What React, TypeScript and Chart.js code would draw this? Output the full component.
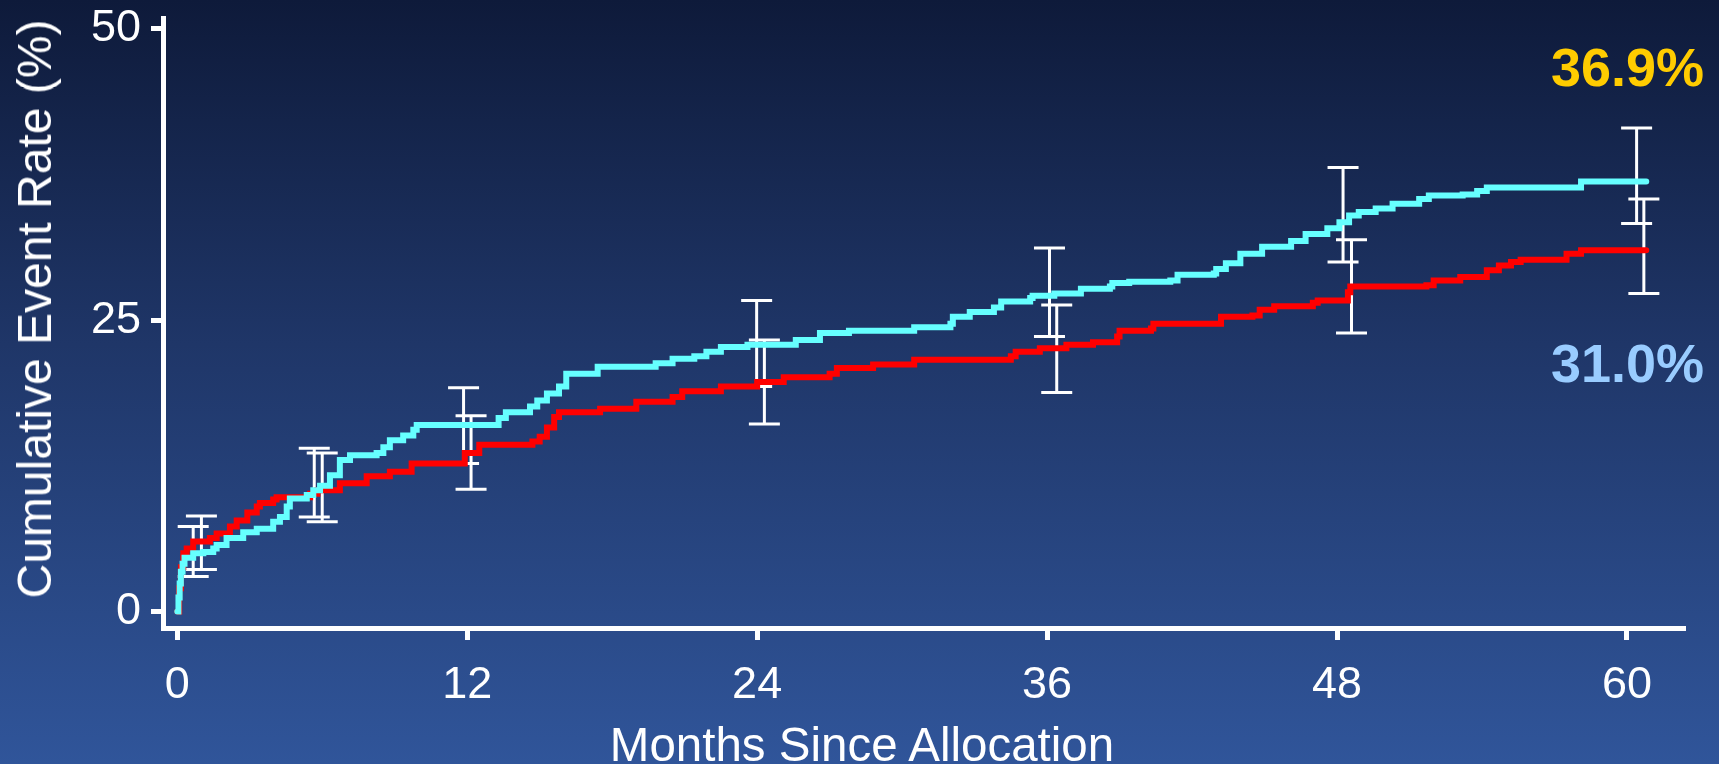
import React, { useEffect, useRef } from "react";
import { Chart, registerables } from "chart.js";

Chart.register(...registerables);

// Axis ticks
const xTicks = [0, 12, 24, 36, 48, 60];
const yTicks = [0, 25, 50];

// Cumulative event rate (%) — cyan arm, step times in months
const cyanMonths = [
  0, 0.05, 0.1, 0.15, 0.22, 0.3, 0.66, 1.08, 1.49, 1.63, 2.04, 2.73, 3.29, 3.97, 4.25, 4.53, 4.66,
  5.36, 5.63, 5.91, 6.32, 6.73, 7.15, 8.25, 8.53, 8.8, 9.35, 9.77, 9.91, 13.3, 13.6, 14.6, 14.9,
  15.3, 15.8, 16.1, 17.4, 19.8, 20.5, 21.4, 21.9, 22.5, 23.6, 25.6, 26.6, 27.8, 30.5, 32.0, 32.1,
  32.8, 33.8, 34.1, 35.3, 35.4, 36.3, 37.4, 38.6, 38.7, 39.4, 41.1, 41.4, 42.9, 43.0, 43.4, 44.0,
  44.9, 46.1, 46.7, 47.6, 48.1, 48.5, 48.9, 49.6, 50.3, 51.4, 51.8, 53.2, 53.8, 54.2, 58.1, 60.8,
];
const cyanRates = [
  0, 1.2, 2.4, 3.4, 4.1, 4.6, 5.0, 5.1, 5.4, 5.7, 6.3, 6.8, 7.1, 7.7, 8.1, 9.0, 9.7,
  10.0, 10.4, 10.8, 11.7, 13.0, 13.4, 13.6, 14.1, 14.7, 15.1, 15.6, 16.0, 16.6, 17.1, 17.6, 18.1,
  18.7, 19.3, 20.4, 21.0, 21.3, 21.7, 21.9, 22.3, 22.7, 22.9, 23.3, 23.9, 24.1, 24.4, 24.7, 25.3,
  25.7, 26.1, 26.6, 26.9, 27.1, 27.3, 27.7, 27.9, 28.2, 28.3, 28.4, 28.9, 29.0, 29.4, 29.9, 30.7,
  31.3, 31.8, 32.4, 32.9, 33.4, 34.0, 34.3, 34.6, 35.0, 35.4, 35.7, 35.8, 36.1, 36.4, 36.9, 36.9,
];

// Cumulative event rate (%) — red arm
const redMonths = [
  0, 0.08, 0.15, 0.25, 0.39, 0.66, 1.35, 1.63, 2.18, 2.46, 2.9, 3.29, 3.42, 3.97, 4.11, 5.5, 5.8,
  6.73, 7.84, 8.8, 9.7, 11.9, 12.5, 14.7, 15.0, 15.3, 15.6, 15.8, 17.5, 19.0, 20.5, 20.9, 22.5,
  24.0, 25.1, 27.0, 27.3, 28.8, 30.5, 34.5, 34.7, 35.7, 36.8, 37.9, 38.9, 39.0, 40.3, 40.4, 43.2,
  44.5, 44.8, 45.4, 47.0, 47.2, 48.45, 48.55, 51.7, 52.0, 53.1, 54.2, 54.7, 55.2, 55.6, 57.5, 58.1,
  60.8,
];
const redRates = [
  0, 2.0, 3.8, 5.0, 5.4, 6.0, 6.3, 6.7, 7.3, 7.8, 8.5, 9.0, 9.3, 9.6, 9.8, 10.1, 10.4,
  11.0, 11.6, 12.0, 12.7, 13.6, 14.3, 14.6, 15.0, 15.8, 16.7, 17.1, 17.4, 18.0, 18.4, 18.9, 19.3,
  19.7, 20.1, 20.4, 20.9, 21.2, 21.6, 21.9, 22.3, 22.6, 22.9, 23.1, 23.6, 24.1, 24.3, 24.7, 25.3,
  25.4, 25.9, 26.2, 26.5, 26.7, 27.4, 27.9, 28.0, 28.4, 28.7, 29.3, 29.7, 30.0, 30.2, 30.7, 31.0,
  31.0,
];

// 95% confidence intervals at yearly landmarks
const cyanCiMonths = [0.66, 5.67, 11.85, 23.98, 36.1, 48.25, 60.4];
const cyanCiLow = [3.0, 8.1, 12.7, 19.3, 23.6, 30.0, 33.3];
const cyanCiHigh = [7.3, 14.0, 19.2, 26.7, 31.2, 38.1, 41.5];
const redCiMonths = [1.0, 6.0, 12.16, 24.3, 36.4, 48.6, 60.7];
const redCiLow = [3.6, 7.7, 10.5, 16.1, 18.8, 23.9, 27.3];
const redCiHigh = [8.2, 13.6, 16.8, 23.3, 26.3, 31.9, 35.4];

const CYAN = "#66ffff";
const RED = "#ff0000";
const WHITE = "#ffffff";
const FONT = "'Liberation Sans', Arial, Helvetica, sans-serif";

const toPoints = (xs: number[], ys: number[]) => xs.map((x, i) => ({ x, y: ys[i] }));

const toBars = (xs: number[], lo: number[], hi: number[]) => {
  const pts: { x: number; y: number | null }[] = [];
  xs.forEach((x, i) => {
    pts.push({ x, y: lo[i] }, { x, y: hi[i] }, { x, y: null });
  });
  return pts;
};

const lastValue = (arr: number[]) => arr[arr.length - 1].toFixed(1) + "%";

// keep the plot area fixed regardless of tick label overhang
const noScalePadding = (s: any) => {
  s.paddingTop = 0;
  s.paddingBottom = 0;
  s.paddingLeft = 0;
  s.paddingRight = 0;
};

export default function App() {
  const canvasRef = useRef<HTMLCanvasElement | null>(null);

  useEffect(() => {
    if (!canvasRef.current) return;
    Chart.defaults.font.family = FONT;

    const barStyle = {
      type: "line" as const,
      borderColor: WHITE,
      borderWidth: 3,
      pointStyle: "line" as const,
      pointRadius: 15.5,
      pointBorderWidth: 3,
      pointBorderColor: WHITE,
      pointHoverRadius: 15.5,
      spanGaps: false,
      fill: false,
    };

    const axisGrid = {
      display: true,
      drawOnChartArea: false,
      drawTicks: true,
      tickLength: 12,
      tickWidth: 5,
      tickColor: WHITE,
      color: WHITE,
      lineWidth: 5,
    };

    const chart = new Chart(canvasRef.current, {
      type: "line",
      data: {
        datasets: [
          {
            label: "cyan",
            data: toPoints(cyanMonths, cyanRates),
            borderColor: CYAN,
            borderWidth: 6,
            stepped: "before",
            pointRadius: 0,
            borderCapStyle: "round",
            fill: false,
            order: 0,
          },
          {
            label: "red",
            data: toPoints(redMonths, redRates),
            borderColor: RED,
            borderWidth: 6,
            stepped: "before",
            pointRadius: 0,
            borderCapStyle: "round",
            fill: false,
            order: 1,
          },
          { label: "cyan CI", data: toBars(cyanCiMonths, cyanCiLow, cyanCiHigh), order: 2, ...barStyle },
          { label: "red CI", data: toBars(redCiMonths, redCiLow, redCiHigh), order: 3, ...barStyle },
        ],
      },
      options: {
        responsive: false,
        devicePixelRatio: 1,
        animation: false,
        layout: { padding: { top: 18, right: 36, left: 0, bottom: 0 } },
        plugins: {
          legend: { display: false },
          tooltip: { enabled: false },
        },
        scales: {
          x: {
            type: "linear",
            min: -0.59,
            max: 62.32,
            afterFit: (s: any) => {
              s.height = 136;
              noScalePadding(s);
            },
            afterBuildTicks: (s: any) => {
              s.ticks = xTicks.map((v) => ({ value: v }));
            },
            border: { display: true, color: WHITE, width: 5 },
            grid: axisGrid,
            ticks: {
              color: WHITE,
              font: { size: 45, family: FONT },
              padding: 19,
              maxRotation: 0,
              autoSkip: false,
            },
          },
          y: {
            type: "linear",
            min: -1.42,
            max: 50.9,
            afterFit: (s: any) => {
              s.width = 163;
              noScalePadding(s);
            },
            afterBuildTicks: (s: any) => {
              s.ticks = yTicks.map((v) => ({ value: v }));
            },
            border: { display: true, color: WHITE, width: 5 },
            grid: axisGrid,
            ticks: {
              color: WHITE,
              font: { size: 45, family: FONT },
              padding: 10,
              autoSkip: false,
            },
          },
        },
      },
    });

    return () => chart.destroy();
  }, []);

  return (
    <div
      style={{
        position: "fixed",
        left: 0,
        top: 0,
        width: 1719,
        height: 764,
        overflow: "hidden",
        background: "linear-gradient(to bottom, #0e1a3a 0%, #1f3668 45%, #30559a 100%)",
        fontFamily: FONT,
      }}
    >
      <canvas
        ref={canvasRef}
        width={1719}
        height={764}
        style={{ position: "absolute", left: 0, top: 0, width: 1719, height: 764, display: "block" }}
      />
      <div
        style={{
          position: "absolute",
          left: 35,
          top: 309,
          transform: "translate(-50%, -50%) rotate(-90deg)",
          whiteSpace: "nowrap",
          fontSize: 48,
          lineHeight: "48px",
          color: WHITE,
        }}
      >
        Cumulative Event Rate (%)
      </div>
      <div
        style={{
          position: "absolute",
          left: 862,
          top: 721,
          transform: "translateX(-50%)",
          whiteSpace: "nowrap",
          fontSize: 47.5,
          lineHeight: "47.5px",
          color: WHITE,
        }}
      >
        Months Since Allocation
      </div>
      <div
        style={{
          position: "absolute",
          right: 15,
          top: 40,
          whiteSpace: "nowrap",
          fontSize: 54,
          lineHeight: "54px",
          fontWeight: "bold",
          color: "#ffcc00",
        }}
      >
        {lastValue(cyanRates)}
      </div>
      <div
        style={{
          position: "absolute",
          right: 15,
          top: 336,
          whiteSpace: "nowrap",
          fontSize: 54,
          lineHeight: "54px",
          fontWeight: "bold",
          color: "#99ccff",
        }}
      >
        {lastValue(redRates)}
      </div>
    </div>
  );
}
